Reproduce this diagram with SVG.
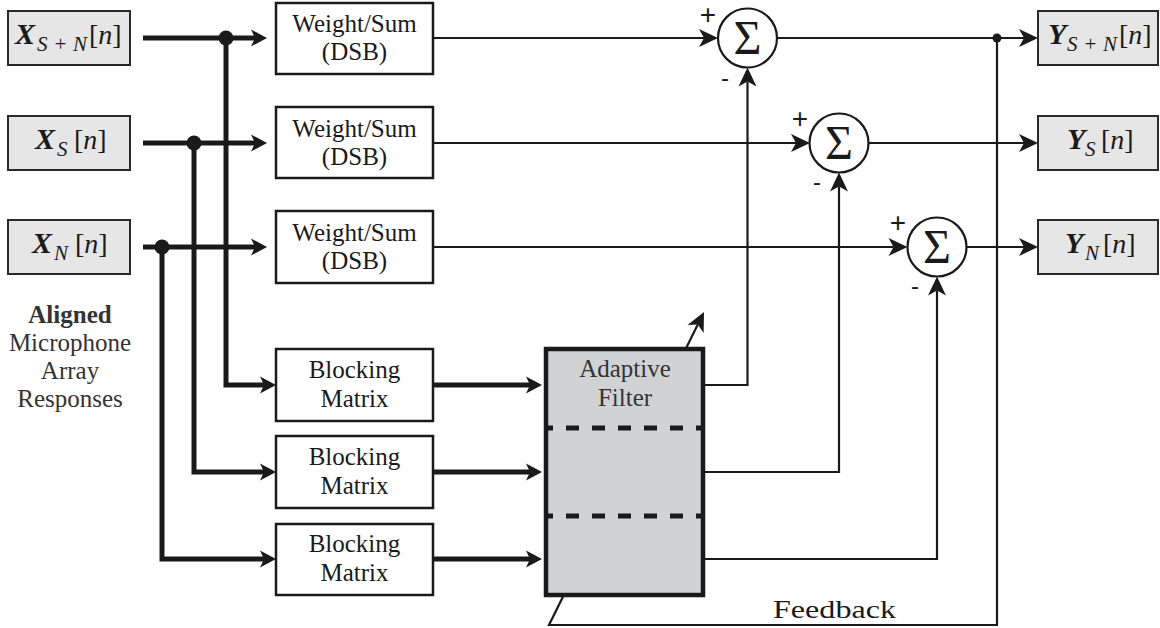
<svg xmlns="http://www.w3.org/2000/svg" width="1160" height="628" viewBox="0 0 1160 628">
<style>
  .box{fill:#fff;stroke:#1a1a1a;stroke-width:2.5}
  .io{fill:#e6e6e6;stroke:#2a2a2a;stroke-width:2}
  .filt{fill:#d1d2d4;stroke:#1a1a1a;stroke-width:4.5}
  .thick{fill:none;stroke:#1a1a1a;stroke-width:5;stroke-linejoin:miter}
  .thin{fill:none;stroke:#1a1a1a;stroke-width:2.2;stroke-linejoin:miter}
  .dash{fill:none;stroke:#1a1a1a;stroke-width:5;stroke-dasharray:13 13;stroke-dashoffset:8}
  .sumc{fill:#fff;stroke:#1a1a1a;stroke-width:2.2}
  .t{font-family:"Liberation Serif","Times New Roman",serif;font-size:25px;fill:#1a1a1a;text-anchor:middle}
  .tg{font-family:"Liberation Serif","Times New Roman",serif;font-size:25px;fill:#333;text-anchor:middle}
  .sig{font-family:"Liberation Serif","Times New Roman",serif;font-size:48px;fill:#1a1a1a;text-anchor:middle}
  .pm{font-family:"Liberation Sans",Arial,sans-serif;font-size:28px;fill:#1a1a1a;text-anchor:middle}
  .mn{font-family:"Liberation Sans",Arial,sans-serif;font-size:24px;fill:#1a1a1a;text-anchor:middle}
  .m{font-family:"Liberation Serif","Times New Roman",serif;font-size:28px;fill:#1a1a1a}
  .mb{font-size:30px;font-weight:bold;font-style:italic}
  .sub{font-size:21px;font-style:italic}
  .it{font-style:italic}
  .dot{fill:#1a1a1a}
</style>
<defs>
  <marker id="ahThick" viewBox="-2 -10 20 20" refX="4" refY="0" markerWidth="20" markerHeight="20" markerUnits="userSpaceOnUse" orient="auto" overflow="visible">
    <path d="M0,-8.5 L16,0 L0,8.5 L4,0 Z" fill="#1a1a1a"/>
  </marker>
  <marker id="ahThin" viewBox="-2 -10 22 20" refX="5" refY="0" markerWidth="22" markerHeight="20" markerUnits="userSpaceOnUse" orient="auto" overflow="visible">
    <path d="M0,-9 L19,0 L0,9 L5,0 Z" fill="#1a1a1a"/>
  </marker>
</defs>

<g id="connectors">
  <path class="thin" d="M997,38 V625 H549 L697.8,324.5" marker-end="url(#ahThin)"/>
  <path class="thick" d="M143,38 H255" marker-end="url(#ahThick)"/>
  <path class="thick" d="M143,143 H255" marker-end="url(#ahThick)"/>
  <path class="thick" d="M143,247 H255" marker-end="url(#ahThick)"/>
  <path class="thick" d="M226,38 V385 H264" marker-end="url(#ahThick)"/>
  <path class="thick" d="M194,143 V472 H264" marker-end="url(#ahThick)"/>
  <path class="thick" d="M162,247 V559 H264" marker-end="url(#ahThick)"/>
  <path class="thick" d="M433,385 H530" marker-end="url(#ahThick)"/>
  <path class="thick" d="M433,472 H530" marker-end="url(#ahThick)"/>
  <path class="thick" d="M433,559 H530" marker-end="url(#ahThick)"/>
  <path class="thin" d="M433,38 H704" marker-end="url(#ahThin)"/>
  <path class="thin" d="M433,143 H796" marker-end="url(#ahThin)"/>
  <path class="thin" d="M433,247 H893.5" marker-end="url(#ahThin)"/>
  <path class="thin" d="M703,385 H747.5 V81.5" marker-end="url(#ahThin)"/>
  <path class="thin" d="M703,472 H839 V186.5" marker-end="url(#ahThin)"/>
  <path class="thin" d="M703,559 H937 V290.5" marker-end="url(#ahThin)"/>
  <path class="thin" d="M777,38 H1024" marker-end="url(#ahThin)"/>
  <path class="thin" d="M868.5,143 H1024" marker-end="url(#ahThin)"/>
  <path class="thin" d="M966.5,247 H1024" marker-end="url(#ahThin)"/>
  <circle class="dot" cx="226" cy="38" r="7.5"/>
  <circle class="dot" cx="194" cy="143" r="7.5"/>
  <circle class="dot" cx="162" cy="247" r="7.5"/>
  <circle class="dot" cx="997" cy="38" r="4.5"/>
</g>

<g id="in-xsn">
  <rect class="io" x="8" y="11" width="122" height="54"/>
  <text class="m" y="44"><tspan x="15" class="mb">X</tspan><tspan x="37" dy="7" class="sub" textLength="50" lengthAdjust="spacing">S+N</tspan><tspan x="89" dy="-7">[</tspan><tspan class="it">n</tspan><tspan>]</tspan></text>
</g>
<g id="in-xs">
  <rect class="io" x="8" y="116" width="122" height="54"/>
  <text class="m" y="149"><tspan x="35" class="mb">X</tspan><tspan x="57" dy="7" class="sub">S</tspan><tspan x="74" dy="-7">[</tspan><tspan class="it">n</tspan><tspan>]</tspan></text>
</g>
<g id="in-xn">
  <rect class="io" x="8" y="220" width="122" height="54"/>
  <text class="m" y="253"><tspan x="32" class="mb">X</tspan><tspan x="54" dy="7" class="sub">N</tspan><tspan x="75" dy="-7">[</tspan><tspan class="it">n</tspan><tspan>]</tspan></text>
</g>

<g id="caption">
  <text class="tg" x="70" y="323" font-weight="bold" fill="#1a1a1a">Aligned</text>
  <text class="tg" x="70" y="351">Microphone</text>
  <text class="tg" x="70" y="379">Array</text>
  <text class="tg" x="70" y="407">Responses</text>
</g>

<g id="ws1">
  <rect class="box" x="276" y="3" width="157" height="71"/>
  <text class="t" x="354.5" y="32">Weight/Sum</text>
  <text class="t" x="354.5" y="60">(DSB)</text>
</g>
<g id="ws2">
  <rect class="box" x="276" y="107" width="157" height="71"/>
  <text class="t" x="354.5" y="137">Weight/Sum</text>
  <text class="t" x="354.5" y="165">(DSB)</text>
</g>
<g id="ws3">
  <rect class="box" x="276" y="211" width="157" height="72"/>
  <text class="t" x="354.5" y="241">Weight/Sum</text>
  <text class="t" x="354.5" y="269">(DSB)</text>
</g>

<g id="bm1">
  <rect class="box" x="276" y="349" width="157" height="72"/>
  <text class="t" x="354.5" y="378">Blocking</text>
  <text class="t" x="354.5" y="407">Matrix</text>
</g>
<g id="bm2">
  <rect class="box" x="276" y="436" width="157" height="72"/>
  <text class="t" x="354.5" y="465">Blocking</text>
  <text class="t" x="354.5" y="494">Matrix</text>
</g>
<g id="bm3">
  <rect class="box" x="276" y="524" width="157" height="71"/>
  <text class="t" x="354.5" y="552">Blocking</text>
  <text class="t" x="354.5" y="581">Matrix</text>
</g>

<g id="adaptive-filter">
  <rect class="filt" x="546" y="349" width="157" height="246"/>
  <line class="dash" x1="548" y1="428" x2="701" y2="428"/>
  <line class="dash" x1="548" y1="516" x2="701" y2="516"/>
  <text class="tg" x="625" y="377">Adaptive</text>
  <text class="tg" x="625" y="406">Filter</text>
</g>

<g id="sum1">
  <circle class="sumc" cx="747.5" cy="38" r="29.5"/>
  <text class="sig" x="747.5" y="54">Σ</text>
  <text class="pm" x="708" y="24">+</text>
  <text class="mn" x="725" y="85.5">-</text>
</g>
<g id="sum2">
  <circle class="sumc" cx="839" cy="143" r="29.5"/>
  <text class="sig" x="839" y="159">Σ</text>
  <text class="pm" x="800" y="127.5">+</text>
  <text class="mn" x="817" y="190">-</text>
</g>
<g id="sum3">
  <circle class="sumc" cx="937" cy="247" r="29.5"/>
  <text class="sig" x="937" y="263">Σ</text>
  <text class="pm" x="898" y="231.5">+</text>
  <text class="mn" x="915" y="294">-</text>
</g>

<g id="out-ysn">
  <rect class="io" x="1038" y="11" width="120" height="54"/>
  <text class="m" y="44"><tspan x="1048" class="mb">Y</tspan><tspan x="1067" dy="7" class="sub" textLength="50" lengthAdjust="spacing">S+N</tspan><tspan x="1119" dy="-7">[</tspan><tspan class="it">n</tspan><tspan>]</tspan></text>
</g>
<g id="out-ys">
  <rect class="io" x="1038" y="116" width="120" height="54"/>
  <text class="m" y="149"><tspan x="1067" class="mb">Y</tspan><tspan x="1085" dy="7" class="sub">S</tspan><tspan x="1101" dy="-7">[</tspan><tspan class="it">n</tspan><tspan>]</tspan></text>
</g>
<g id="out-yn">
  <rect class="io" x="1038" y="220" width="120" height="54"/>
  <text class="m" y="253"><tspan x="1065" class="mb">Y</tspan><tspan x="1085" dy="7" class="sub">N</tspan><tspan x="1103" dy="-7">[</tspan><tspan class="it">n</tspan><tspan>]</tspan></text>
</g>

<g id="feedback-label">
  <text class="t" x="834.5" y="618" font-size="28" textLength="123" lengthAdjust="spacingAndGlyphs">Feedback</text>
</g>
</svg>
